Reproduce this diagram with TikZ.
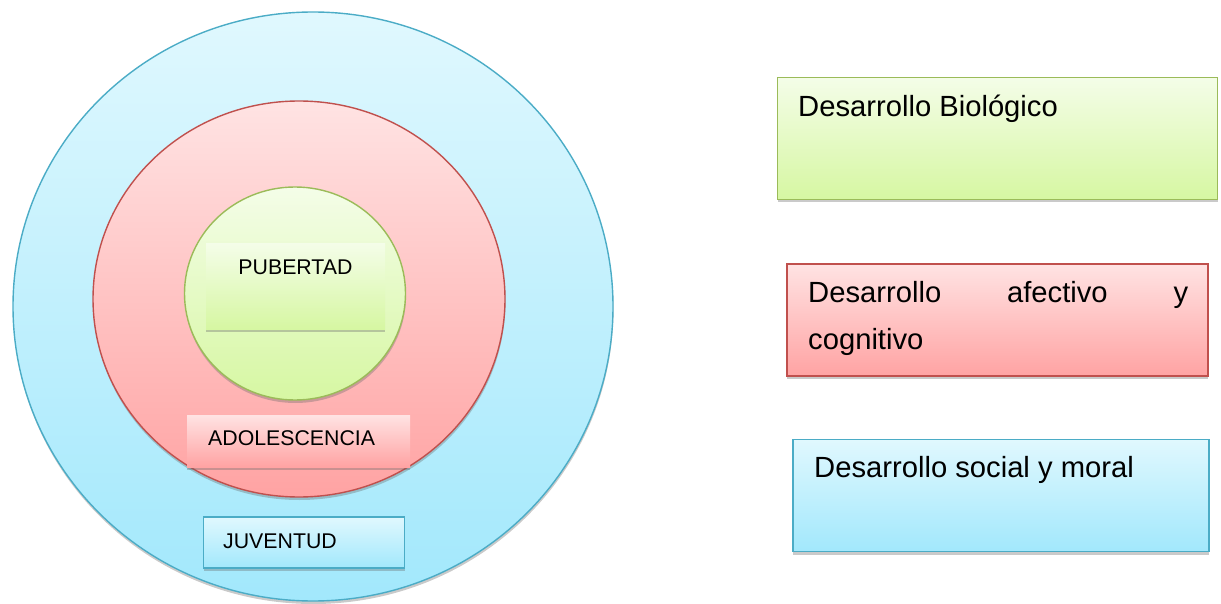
\documentclass[tikz,border=0pt]{standalone}
\usepackage{fontspec}
\setmainfont{Liberation Sans}
\usetikzlibrary{shapes.geometric,shadows}
\definecolor{gline}{HTML}{9BBB59}
\definecolor{rline}{HTML}{C0504D}
\definecolor{bline}{HTML}{4BACC6}
\definecolor{gtop}{HTML}{F4FDE8}
\definecolor{gbot}{HTML}{D6F7A2}
\definecolor{rtop}{HTML}{FFE3E3}
\definecolor{rbot}{HTML}{FFA3A3}
\definecolor{btop}{HTML}{E0F8FE}
\definecolor{bbot}{HTML}{A2E8FC}
\tikzset{
  softshadow/.style={drop shadow={shadow xshift=0.4pt,shadow yshift=-3pt,opacity=0.35,fill=black!60}},
  ring/.style={ellipse,inner sep=0pt,line width=1.4pt,softshadow},
  greenfill/.style={top color=gtop,bottom color=gbot},
  redfill/.style={top color=rtop,bottom color=rbot},
  bluefill/.style={top color=btop,bottom color=bbot},
  bigbox/.style={rectangle,inner sep=0pt,line width=1.5pt,softshadow},
  smallbox/.style={rectangle,inner sep=0pt,softshadow},
  bigtxt/.style={anchor=base west,inner sep=0pt,font=\fontsize{29.2}{35}\selectfont},
  smalltxt/.style={inner sep=0pt,font=\fontsize{21.3}{26}\selectfont},
}
\begin{document}
\begin{tikzpicture}[x=1pt,y=-1pt]
\useasboundingbox (0,0) rectangle (1221,604);
% circles
\node[ring,draw=bline,bluefill,minimum width=600pt,minimum height=589pt] (juvc) at (313,306.5) {};
\node[ring,draw=rline,redfill,minimum width=412pt,minimum height=396pt] (adoc) at (299,299) {};
\node[ring,draw=gline,greenfill,minimum width=221pt,minimum height=213pt] (pubc) at (295,293.5) {};
% inner label boxes
\node[smallbox,greenfill,minimum width=179pt,minimum height=85pt] (pubb) at (295.5,286.5) {};
\node[smalltxt,anchor=base] (pubt) at (295.5,274) {PUBERTAD};
\node[smallbox,redfill,minimum width=223pt,minimum height=52pt] (adob) at (298.5,441) {};
\node[smalltxt,anchor=base west] (adot) at (208,445) {ADOLESCENCIA};
\node[smallbox,draw=bline,line width=1.3pt,bluefill,minimum width=201pt,minimum height=51pt] (juvb) at (304,542.5) {};
\node[smalltxt,anchor=base west] (juvt) at (223,548) {JUVENTUD};
% right boxes
\node[bigbox,draw=gline,greenfill,minimum width=440pt,minimum height=122pt] (bio) at (997.5,138.5) {};
\node[bigtxt] (biot) at (798,117) {Desarrollo Biológico};
\node[bigbox,draw=rline,redfill,minimum width=421pt,minimum height=112pt] (afe) at (997.5,320) {};
\node[bigtxt] (afet1) at (808,302) {\hbox to 380pt{Desarrollo\hfill afectivo\hfill y}};
\node[bigtxt] (afet2) at (808,349) {cognitivo};
\node[bigbox,draw=bline,bluefill,minimum width=416pt,minimum height=112pt] (soc) at (1001,495.5) {};
\node[bigtxt] (soct) at (814,477) {Desarrollo social y moral};
\end{tikzpicture}
\end{document}
